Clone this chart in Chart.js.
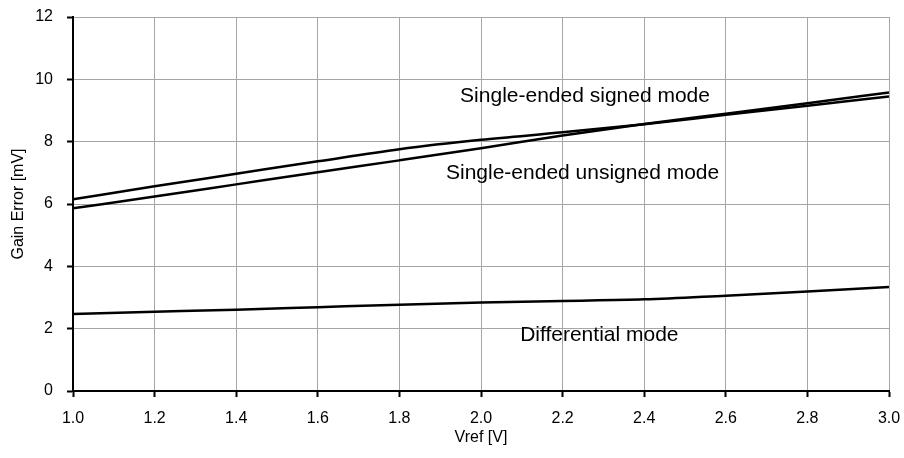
<!DOCTYPE html>
<html>
<head>
<meta charset="utf-8">
<script src="https://cdn.jsdelivr.net/npm/chart.js@4/dist/chart.umd.min.js"></script>
<style>
  html, body { margin: 0; padding: 0; background: #fff; }
  canvas { display: block; }
</style>
</head>
<body>
<canvas id="gainChart" width="904" height="458"></canvas>
<script>
// Vref values (V)
const vref = [1.0, 1.2, 1.4, 1.6, 1.8, 2.0, 2.2, 2.4, 2.6, 2.8, 3.0];

// Gain error (mV)
const signedMode = [6.15, 6.57, 6.97, 7.37, 7.76, 8.06, 8.30, 8.56, 8.86, 9.15, 9.45];
const unsignedMode = [5.86, 6.24, 6.63, 7.02, 7.40, 7.79, 8.20, 8.57, 8.90, 9.23, 9.58];
const differentialMode = [2.47, 2.54, 2.61, 2.69, 2.77, 2.84, 2.89, 2.94, 3.06, 3.19, 3.34];

const seriesNames = ['Single-ended signed mode', 'Single-ended unsigned mode', 'Differential mode'];

const toPoints = (ys) => vref.map((x, i) => ({ x: x, y: ys[i] }));

// curve labels placed in data coordinates
const curveLabels = [
  { text: seriesNames[0], x: 2.255, y: 9.47 },
  { text: seriesNames[1], x: 2.249, y: 7.0 },
  { text: seriesNames[2], x: 2.29, y: 1.8 }
];

const labelPlugin = {
  id: 'curveLabels',
  afterDatasetsDraw(chart) {
    const ctx = chart.ctx;
    const xs = chart.scales.x, ys = chart.scales.y;
    ctx.save();
    ctx.font = '21px "Liberation Sans", Arial, sans-serif';
    ctx.fillStyle = '#000';
    ctx.textAlign = 'center';
    ctx.textBaseline = 'middle';
    curveLabels.forEach(l => {
      ctx.fillText(l.text, xs.getPixelForValue(l.x), ys.getPixelForValue(l.y));
    });
    ctx.restore();
  }
};

const lineStyle = {
  borderColor: '#000',
  borderWidth: 2.5,
  pointRadius: 0,
  fill: false,
  cubicInterpolationMode: 'monotone'
};

const ctx = document.getElementById('gainChart').getContext('2d');
const gainChart = new Chart(ctx, {
  type: 'line',
  data: {
    datasets: [
      Object.assign({ label: seriesNames[0], data: toPoints(signedMode) }, lineStyle),
      Object.assign({ label: seriesNames[1], data: toPoints(unsignedMode) }, lineStyle),
      Object.assign({ label: seriesNames[2], data: toPoints(differentialMode) }, lineStyle)
    ]
  },
  options: {
    responsive: false,
    animation: false,
    layout: {
      padding: { top: 17, right: 15, bottom: 0, left: 0 }
    },
    plugins: {
      legend: { display: false },
      tooltip: { enabled: false }
    },
    scales: {
      x: {
        type: 'linear',
        min: 1.0,
        max: 3.0,
        afterFit: (scale) => {
          scale.height = 67;
          scale.paddingLeft = 0;
          scale.paddingRight = 0;
        },
        ticks: {
          stepSize: 0.2,
          color: '#000',
          padding: 12,
          maxRotation: 0,
          font: { family: '"Liberation Sans", Arial, sans-serif', size: 16 },
          callback: (v) => v.toFixed(1)
        },
        grid: {
          color: '#a6a6a6',
          lineWidth: 1,
          tickColor: '#000',
          tickLength: 6,
          tickWidth: 2
        },
        border: { color: '#000', width: 2 },
        title: {
          display: true,
          text: 'Vref [V]',
          color: '#000',
          padding: { top: 0, bottom: 11 },
          font: { family: '"Liberation Sans", Arial, sans-serif', size: 16 }
        }
      },
      y: {
        min: 0,
        max: 12,
        afterFit: (scale) => {
          scale.width = 73;
          scale.paddingTop = 0;
          scale.paddingBottom = 0;
        },
        ticks: {
          stepSize: 2,
          color: '#000',
          padding: 14,
          font: { family: '"Liberation Sans", Arial, sans-serif', size: 16 }
        },
        grid: {
          color: '#a6a6a6',
          lineWidth: 1,
          tickColor: '#000',
          tickLength: 6,
          tickWidth: 2
        },
        border: { color: '#000', width: 2 },
        title: {
          display: true,
          text: 'Gain Error [mV]',
          color: '#000',
          padding: { top: 9, bottom: 0 },
          font: { family: '"Liberation Sans", Arial, sans-serif', size: 16 }
        }
      }
    }
  },
  plugins: [labelPlugin]
});
</script>
</body>
</html>
